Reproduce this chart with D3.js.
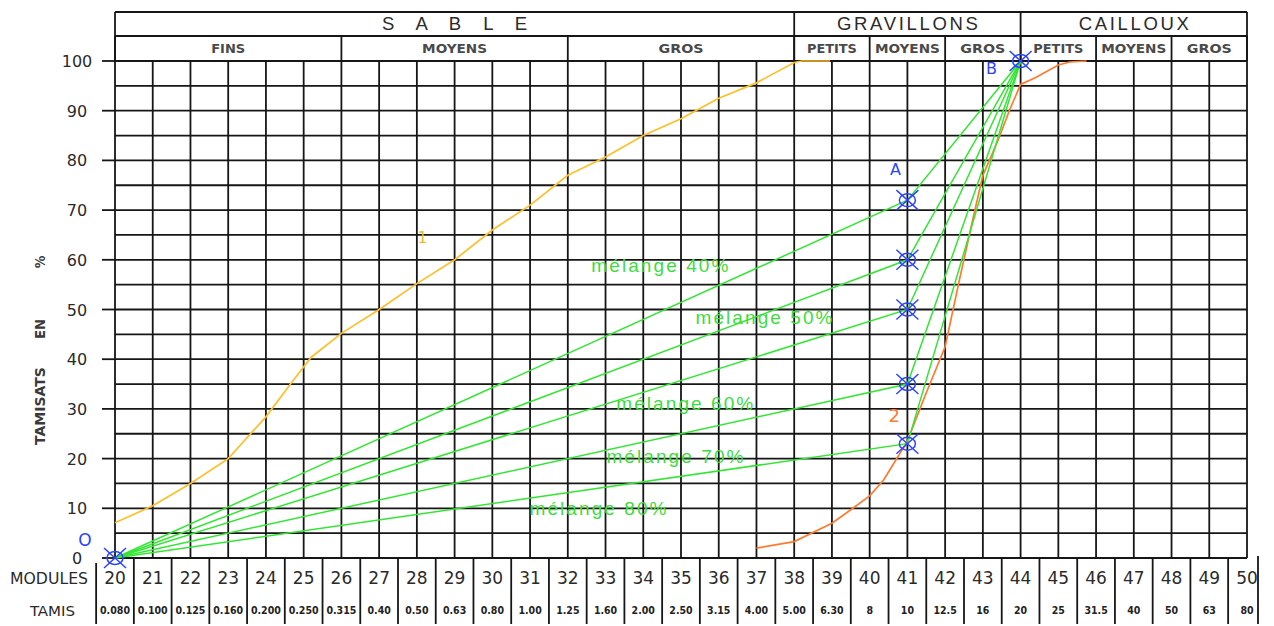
<!DOCTYPE html>
<html lang="fr">
<head>
<meta charset="utf-8">
<title>Courbes granulométriques – mélanges</title>
<script src="https://cdn.jsdelivr.net/npm/d3@7"></script>
<style>
  html, body { margin: 0; padding: 0; background: #fff; }
  svg { display: block; }
</style>
</head>
<body>
<script>
// ---- Données ----------------------------------------------------------
// Modules AFNOR (axe horizontal) et ouvertures de tamis correspondantes
const modules = d3.range(20, 51);
const tamis = ["0.080","0.100","0.125","0.160","0.200","0.250","0.315","0.40","0.50","0.63",
               "0.80","1.00","1.25","1.60","2.00","2.50","3.15","4.00","5.00","6.30",
               "8","10","12.5","16","20","25","31.5","40","50","63","80"];

// Familles et classes granulaires (bornes en modules)
const familles = ["S A B L E", "GRAVILLONS", "CAILLOUX"];
const famillesBornes = [20, 38, 44, 50];
const classes = ["FINS","MOYENS","GROS","PETITS","MOYENS","GROS","PETITS","MOYENS","GROS"];
const classesBornes = [20, 26, 32, 38, 40, 42, 44, 46, 48, 50];

// Graduations des tamisats (%)
const ticksPct = d3.range(0, 101, 10);

// Courbe 1 : sable (module, tamisat %)
const courbe1Modules = [20, 21, 22, 23, 24, 24.65, 25.2, 26, 27, 28, 29, 30, 31, 32, 33, 34, 35, 36, 37, 38, 38.2, 38.95];
const courbe1Valeurs = [7.1, 10.5, 15, 20, 28.4, 35, 40.4, 45.2, 50, 55.2, 60, 66, 71, 77, 80.7, 85, 88.4, 92.5, 95.6, 99.7, 100, 100];

// Courbe 2 : gravillon (module, tamisat %)
const courbe2Modules = [37, 38, 39, 39.5, 40, 40.37, 41, 41.46, 42, 42.38, 42.73, 43, 43.4, 43.7, 44, 44.4, 45, 45.3, 45.75];
const courbe2Valeurs = [2, 3.3, 7, 9.7, 12.5, 15.7, 23.5, 32.5, 42.5, 56, 68, 77, 84, 90, 95.3, 96.7, 99.2, 99.8, 100];

// Points O, B et points de mélange lus au module 41
const pointO = [20, 0];
const pointB = [44, 100];
const moduleMelange = 41;
const valeursMelange = [72, 60, 50, 35, 23];

// Étiquettes des mélanges (texte, module du centre, tamisat de la ligne de base)
const melangeTextes = ["mélange 40%", "mélange 50%", "mélange 60%", "mélange 70%", "mélange 80%"];
const melangeModules = [34.44, 37.2, 35.1, 34.84, 32.8];
const melangeValeurs = [57.5, 47.1, 29.8, 19.1, 8.65];

// ---- Mise en page ------------------------------------------------------
const W = 1274, H = 626;
const X0 = 115, X1 = 1247, Y0 = 558, Y100 = 61;
const HEAD_TOP = 12, HEAD_MID = 36;
const BAS = 624;

const x = d3.scaleLinear().domain([20, 50]).range([X0, X1]);
const y = d3.scaleLinear().domain([0, 100]).range([Y0, Y100]);

const INK = "#161616";
const TXT = "#2a2a2a";
const VERT = "#33e633";
const VERT_TXT = "#3ddc3d";
const BLEU = "#2b45ff";
const JAUNE = "#ffbf2a";
const ORANGE = "#ff7a2e";

const svg = d3.select("body").append("svg")
  .attr("width", W).attr("height", H)
  .attr("viewBox", `0 0 ${W} ${H}`);

svg.append("rect").attr("width", W).attr("height", H).attr("fill", "#fff");

const grille = svg.append("g")
  .attr("stroke", INK).attr("stroke-width", 1.8).attr("fill", "none");

// Lignes horizontales tous les 5 %
grille.selectAll("line.h").data(d3.range(0, 101, 5)).join("line")
  .attr("class", "h")
  .attr("x1", X0).attr("x2", X1)
  .attr("y1", d => y(d)).attr("y2", d => y(d));

// Lignes verticales à chaque module
grille.selectAll("line.v").data(modules).join("line")
  .attr("class", "v")
  .attr("x1", d => x(d)).attr("x2", d => x(d))
  .attr("y1", Y100).attr("y2", Y0);

// Cadre de l'en-tête
grille.append("line").attr("x1", X0).attr("x2", X1).attr("y1", HEAD_TOP).attr("y2", HEAD_TOP);
grille.append("line").attr("x1", X0).attr("x2", X1).attr("y1", HEAD_MID).attr("y2", HEAD_MID);
grille.selectAll("line.fam").data(famillesBornes).join("line")
  .attr("class", "fam")
  .attr("x1", d => x(d)).attr("x2", d => x(d))
  .attr("y1", HEAD_TOP).attr("y2", Y100);
grille.selectAll("line.cls").data(classesBornes).join("line")
  .attr("class", "cls")
  .attr("x1", d => x(d)).attr("x2", d => x(d))
  .attr("y1", HEAD_MID).attr("y2", Y100);

// Graduations de l'axe des tamisats
grille.selectAll("line.tick").data(ticksPct).join("line")
  .attr("class", "tick")
  .attr("x1", X0 - 13).attr("x2", X0)
  .attr("y1", d => y(d)).attr("y2", d => y(d));

// Cases des modules et des tamis sous la grille
grille.selectAll("line.case").data(modules.slice(1)).join("line")
  .attr("class", "case")
  .attr("x1", d => x(d - 0.5)).attr("x2", d => x(d - 0.5))
  .attr("y1", Y0).attr("y2", BAS);
grille.append("line")
  .attr("x1", x(19.5)).attr("x2", x(19.5)).attr("y1", Y0 + 5).attr("y2", BAS);
grille.append("line")
  .attr("x1", x(50) + 11).attr("x2", x(50) + 11).attr("y1", Y0 - 2).attr("y2", BAS);

// ---- Textes de l'en-tête ----------------------------------------------
const largeurFamille = { "S A B L E": 145, "GRAVILLONS": 141, "CAILLOUX": 110 };
svg.append("g").selectAll("text").data(familles).join("text")
  .attr("x", (d, i) => (x(famillesBornes[i]) + x(famillesBornes[i + 1])) / 2)
  .attr("y", 29.5)
  .attr("text-anchor", "middle")
  .attr("font-family", "Liberation Sans, Arial, sans-serif")
  .attr("font-size", 18.5)
  .attr("fill", TXT)
  .attr("textLength", d => largeurFamille[d])
  .attr("lengthAdjust", "spacing")
  .text(d => d);

const largeurClasse = { "FINS": 34, "MOYENS": 65, "GROS": 45, "PETITS": 50 };
svg.append("g").selectAll("text").data(classes).join("text")
  .attr("x", (d, i) => (x(classesBornes[i]) + x(classesBornes[i + 1])) / 2)
  .attr("y", 52.5)
  .attr("text-anchor", "middle")
  .attr("font-family", "DejaVu Sans Condensed, DejaVu Sans, sans-serif")
  .attr("font-weight", "bold")
  .attr("font-size", 12.5)
  .attr("fill", "#4a4a4a")
  .attr("textLength", d => largeurClasse[d])
  .attr("lengthAdjust", "spacingAndGlyphs")
  .text(d => d);

// ---- Axe vertical -----------------------------------------------------
svg.append("g").selectAll("text").data(ticksPct).join("text")
  .attr("x", 77)
  .attr("y", d => y(d) + 6)
  .attr("text-anchor", "middle")
  .attr("font-family", "DejaVu Sans, sans-serif")
  .attr("font-size", 16)
  .attr("fill", TXT)
  .text(d => d);

const titreY = svg.append("g")
  .attr("font-family", "DejaVu Sans Condensed, DejaVu Sans, sans-serif")
  .attr("font-weight", "bold")
  .attr("font-size", 14)
  .attr("fill", "#3a3a3a");
[["TAMISATS", 406, 78], ["EN", 329, 20], ["%", 262, null]].forEach(([t, cy, L]) => {
  const tx = titreY.append("text")
    .attr("transform", `translate(45,${cy}) rotate(-90)`)
    .attr("text-anchor", "middle")
    .text(t);
  if (L) tx.attr("textLength", L).attr("lengthAdjust", "spacingAndGlyphs");
});

// ---- Bas : modules et tamis --------------------------------------------
svg.append("text")
  .attr("x", 10).attr("y", 584)
  .attr("font-family", "DejaVu Sans Condensed, DejaVu Sans, sans-serif")
  .attr("font-size", 15).attr("fill", TXT)
  .attr("textLength", 78).attr("lengthAdjust", "spacingAndGlyphs")
  .text("MODULES");
svg.append("text")
  .attr("x", 30).attr("y", 616)
  .attr("font-family", "DejaVu Sans Condensed, DejaVu Sans, sans-serif")
  .attr("font-size", 14).attr("fill", TXT)
  .attr("textLength", 45).attr("lengthAdjust", "spacingAndGlyphs")
  .text("TAMIS");

svg.append("g").selectAll("text").data(modules).join("text")
  .attr("x", d => x(d))
  .attr("y", 584)
  .attr("text-anchor", "middle")
  .attr("font-family", "DejaVu Sans, sans-serif")
  .attr("font-size", 17)
  .attr("fill", TXT)
  .text(d => d);

svg.append("g").selectAll("text").data(tamis).join("text")
  .attr("x", (d, i) => x(modules[i]))
  .attr("y", 614)
  .attr("text-anchor", "middle")
  .attr("font-family", "DejaVu Sans Condensed, DejaVu Sans, sans-serif")
  .attr("font-weight", "bold")
  .attr("font-size", 10.5)
  .attr("fill", "#222")
  .each(function (d) {
    if (d.length >= 5) d3.select(this).attr("textLength", 30).attr("lengthAdjust", "spacingAndGlyphs");
  })
  .text(d => d);

// ---- Courbes granulométriques -----------------------------------------
const ligne = d3.line().x(d => x(d[0])).y(d => y(d[1]));

svg.append("path")
  .datum(d3.zip(courbe1Modules, courbe1Valeurs))
  .attr("d", ligne)
  .attr("fill", "none").attr("stroke", JAUNE).attr("stroke-width", 1.7);

svg.append("path")
  .datum(d3.zip(courbe2Modules, courbe2Valeurs))
  .attr("d", ligne)
  .attr("fill", "none").attr("stroke", ORANGE).attr("stroke-width", 1.7);

// Lignes de mélange : O -> point au module 41 -> B
const melanges = svg.append("g").attr("fill", "none").attr("stroke", VERT).attr("stroke-width", 1.5);
valeursMelange.forEach(v => {
  melanges.append("path")
    .datum([pointO, [moduleMelange, v], pointB])
    .attr("d", ligne);
});

svg.append("g").selectAll("text").data(melangeTextes).join("text")
  .attr("x", (d, i) => x(melangeModules[i]))
  .attr("y", (d, i) => y(melangeValeurs[i]))
  .attr("text-anchor", "middle")
  .attr("font-family", "Liberation Sans, Arial, sans-serif")
  .attr("font-size", 19)
  .attr("fill", VERT_TXT)
  .attr("textLength", 137)
  .attr("lengthAdjust", "spacing")
  .text(d => d);

// ---- Repères (cercle barré) -------------------------------------------
const reperes = [pointO, ...valeursMelange.map(v => [moduleMelange, v]), pointB];
const rep = svg.append("g").attr("stroke", BLEU).attr("stroke-width", 1.5).attr("fill", "none");
reperes.forEach(([m, v]) => {
  const g = rep.append("g").attr("transform", `translate(${x(m)},${y(v)})`);
  g.append("ellipse").attr("rx", 8).attr("ry", 6.5);
  g.append("line").attr("x1", -11).attr("y1", -10).attr("x2", 11).attr("y2", 10);
  g.append("line").attr("x1", -11).attr("y1", 10).attr("x2", 11).attr("y2", -10);
});

// Lettres des points et numéros des courbes
const lettres = svg.append("g").attr("font-family", "DejaVu Sans, sans-serif").attr("text-anchor", "middle");
lettres.append("text").attr("x", x(pointO[0]) - 30).attr("y", y(pointO[1]) - 12)
  .attr("font-size", 17).attr("fill", BLEU).text("O");
lettres.append("text").attr("x", x(moduleMelange) - 12).attr("y", y(valeursMelange[0]) - 25)
  .attr("font-size", 16).attr("fill", BLEU).text("A");
lettres.append("text").attr("x", x(pointB[0]) - 29).attr("y", y(pointB[1]) + 13)
  .attr("font-size", 16).attr("fill", BLEU).text("B");
lettres.append("text").attr("x", x(28.15)).attr("y", y(63.4))
  .attr("font-size", 15).attr("fill", "#f2b82a").text("1");
lettres.append("text").attr("x", x(40.65)).attr("y", y(27.3))
  .attr("font-size", 18).attr("fill", ORANGE).text("2");
</script>
</body>
</html>
